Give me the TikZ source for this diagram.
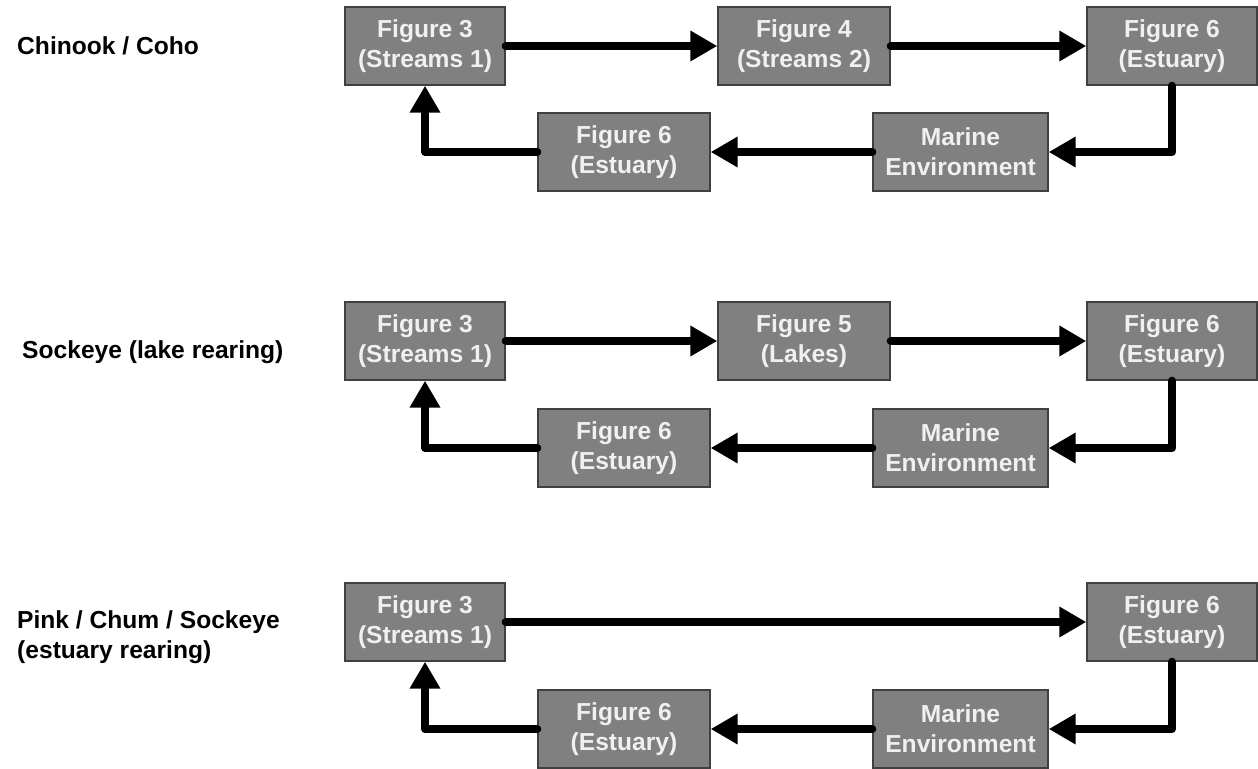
\documentclass[tikz,border=0pt]{standalone}
\usepackage{fontspec}
\setmainfont{Liberation Sans}
\usetikzlibrary{arrows.meta,positioning}
\tikzset{
  box/.style={draw=black!75, line width=0.8pt, fill=black!50, text=black!6,
    minimum width=3.44cm, minimum height=1.56cm, inner sep=0pt, align=center,
    font=\bfseries\fontsize{14}{17}\selectfont},
  fish/.style={anchor=west, align=left, font=\bfseries\fontsize{14}{17}\selectfont},
  flow/.style={line width=0.16cm, line cap=round, line join=round,
    -{Triangle[length=0.54cm,width=0.58cm]}}
}
\begin{document}
\begin{tikzpicture}
\useasboundingbox (0,0) rectangle (25.16,-15.38);
% Chinook / Coho
\node[fish] (la) at (0.22,-0.92) {Chinook / Coho};
\node[box, minimum width=3.2cm] (a3) at (8.5,-0.92) {Figure 3\\(Streams 1)};
\node[box] (a4) at (16.08,-0.92) {Figure 4\\(Streams 2)};
\node[box, minimum width=3.4cm] (a6) at (23.44,-0.92) {Figure 6\\(Estuary)};
\node[box, minimum width=3.5cm] (am) at (19.21,-3.04) {Marine\\Environment};
\node[box] (a6b) at (12.48,-3.04) {Figure 6\\(Estuary)};
\draw[flow] (a3) -- (a4);
\draw[flow] (a4) -- (a6);
\draw[flow] (a6.south) |- (am.east);
\draw[flow] (am) -- (a6b);
\draw[flow] (a6b.west) -| (a3.south);
% Sockeye (lake rearing)
\node[fish] (lb) at (0.32,-7.04) {Sockeye (lake rearing)};
\node[box, minimum width=3.2cm] (b3) at (8.5,-6.82) {Figure 3\\(Streams 1)};
\node[box] (b5) at (16.08,-6.82) {Figure 5\\(Lakes)};
\node[box, minimum width=3.4cm] (b6) at (23.44,-6.82) {Figure 6\\(Estuary)};
\node[box, minimum width=3.5cm] (bm) at (19.21,-8.96) {Marine\\Environment};
\node[box] (b6b) at (12.48,-8.96) {Figure 6\\(Estuary)};
\draw[flow] (b3) -- (b5);
\draw[flow] (b5) -- (b6);
\draw[flow] (b6.south) |- (bm.east);
\draw[flow] (bm) -- (b6b);
\draw[flow] (b6b.west) -| (b3.south);
% Pink / Chum / Sockeye (estuary rearing)
\node[fish] (lc) at (0.22,-12.74) {Pink / Chum / Sockeye\\(estuary rearing)};
\node[box, minimum width=3.2cm] (c3) at (8.5,-12.44) {Figure 3\\(Streams 1)};
\node[box, minimum width=3.4cm] (c6) at (23.44,-12.44) {Figure 6\\(Estuary)};
\node[box, minimum width=3.5cm] (cm) at (19.21,-14.58) {Marine\\Environment};
\node[box] (c6b) at (12.48,-14.58) {Figure 6\\(Estuary)};
\draw[flow] (c3) -- (c6);
\draw[flow] (c6.south) |- (cm.east);
\draw[flow] (cm) -- (c6b);
\draw[flow] (c6b.west) -| (c3.south);
\end{tikzpicture}
\end{document}
